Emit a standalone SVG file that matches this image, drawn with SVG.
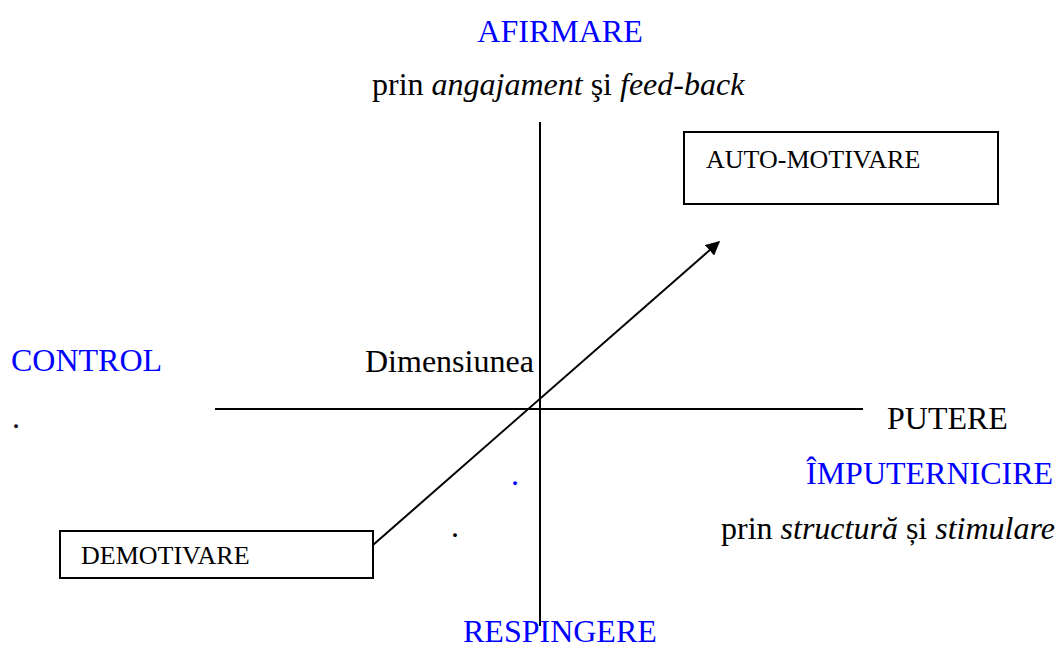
<svg xmlns="http://www.w3.org/2000/svg" width="1058" height="649" viewBox="0 0 1058 649">
<style>
text{font-family:"Liberation Serif","Times New Roman",serif;fill:#000}
.big{font-size:32px}
.blue{fill:#0000ff}
.small{font-size:26px}
.box{fill:#fff;stroke:#000;stroke-width:2}
.axis{stroke:#000;stroke-width:2;fill:none}
.conn{stroke:#000;stroke-width:2;fill:none}
</style>
<defs>
<marker id="arr" viewBox="0 0 10 10" refX="9" refY="5" markerWidth="14" markerHeight="14" markerUnits="userSpaceOnUse" orient="auto">
<path d="M0,0 L10,5 L0,10 z" fill="#000"/>
</marker>
</defs>
<rect width="1058" height="649" fill="#fff"/>
<g id="axes">
<line class="axis" x1="540" y1="122" x2="540" y2="626"/>
<line class="axis" x1="215" y1="409" x2="863" y2="409"/>
</g>
<g id="labels">
<text class="big blue" x="560" y="42" text-anchor="middle">AFIRMARE</text>
<text class="big" x="372" y="95">prin <tspan font-style="italic">angajament</tspan> şi <tspan font-style="italic">feed-back</tspan></text>
<text class="big blue" x="11" y="371">CONTROL</text>
<text class="big" x="12" y="428">.</text>
<text class="big" x="365" y="372">Dimensiunea</text>
<text class="big" x="887" y="429">PUTERE</text>
<text class="big blue" x="806" y="484">ÎMPUTERNICIRE</text>
<text class="big blue" x="511" y="485">.</text>
<text class="big" x="451" y="537">.</text>
<text class="big" x="721" y="539">prin <tspan font-style="italic">structură</tspan> și <tspan font-style="italic">stimulare</tspan></text>
<text class="big blue" x="463" y="642">RESPINGERE</text>
</g>
<g id="node-auto-motivare">
<rect class="box" x="684" y="132" width="314" height="72"/>
<text class="small" x="706" y="168">AUTO-MOTIVARE</text>
</g>
<g id="node-demotivare">
<rect class="box" x="60" y="531" width="313" height="47"/>
<text class="small" x="81" y="564">DEMOTIVARE</text>
</g>
<g id="connectors">
<line class="conn" x1="373" y1="545" x2="719" y2="242" marker-end="url(#arr)"/>
</g>
</svg>
